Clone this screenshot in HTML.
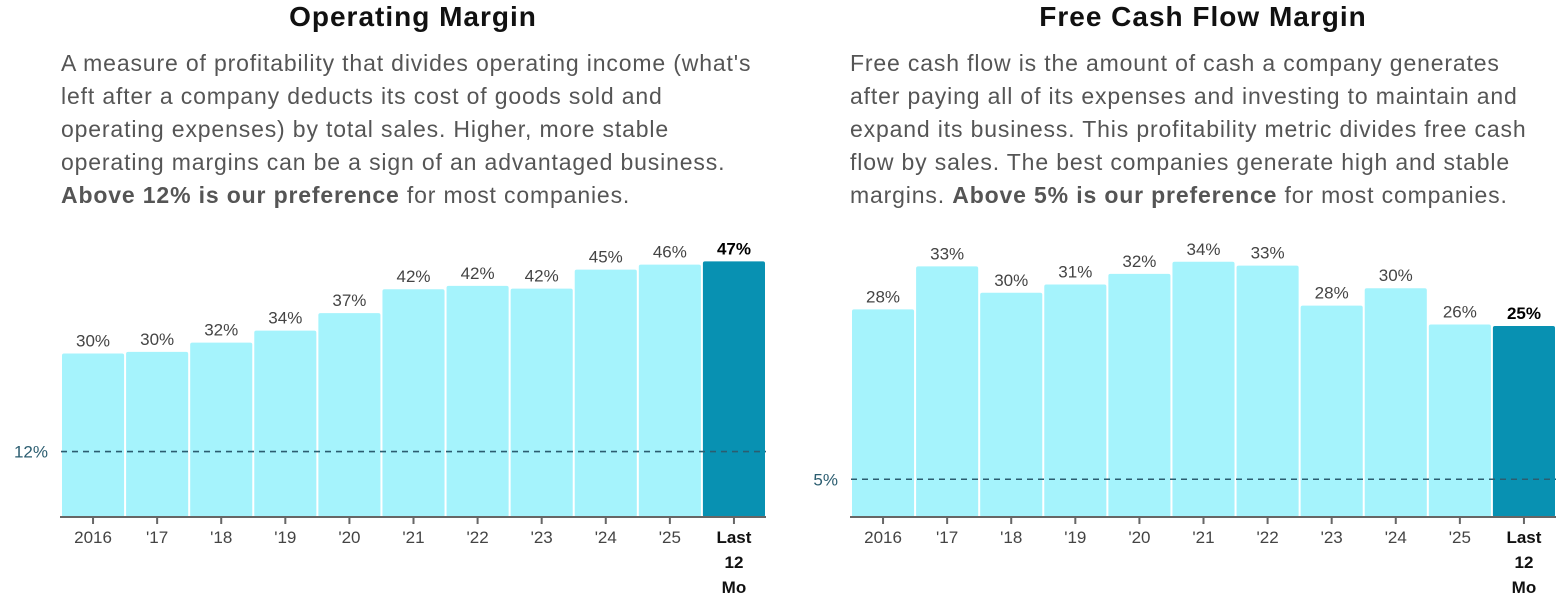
<!DOCTYPE html>
<html><head><meta charset="utf-8"><style>
body{margin:0;width:1565px;height:606px;background:#fff;font-family:"Liberation Sans",sans-serif;overflow:hidden;position:relative}
.title{position:absolute;top:1px;font-size:28px;letter-spacing:1px;font-weight:bold;color:#111;text-align:center}
.desc{position:absolute;top:47px;font-size:23px;letter-spacing:0.85px;line-height:33px;color:#555;white-space:nowrap}
.desc b{color:#555}
svg{position:absolute;left:0;top:0}
</style></head><body>
<div class="title" style="left:60px;width:706px">Operating Margin</div>
<div class="desc" style="left:61px">A measure of profitability that divides operating income (what's<br>left after a company deducts its cost of goods sold and<br>operating expenses) by total sales. Higher, more stable<br>operating margins can be a sign of an advantaged business.<br><b>Above 12% is our preference</b> for most companies.</div>
<div class="title" style="left:850px;width:706px">Free Cash Flow Margin</div>
<div class="desc" style="left:850px">Free cash flow is the amount of cash a company generates<br>after paying all of its expenses and investing to maintain and<br>expand its business. This profitability metric divides free cash<br>flow by sales. The best companies generate high and stable<br>margins. <b>Above 5% is our preference</b> for most companies.</div>
<svg id="svg" width="1565" height="606"></svg>
<script>
const categories=["2016","'17","'18","'19","'20","'21","'22","'23","'24","'25","Last 12 Mo"];
const opValues=[30,30.3,32,34.2,37.4,41.8,42.4,41.9,45.4,46.3,46.9];
const fcfValues=[27.5,33.2,29.7,30.8,32.2,33.8,33.3,28,30.3,25.5,25.3];
const opLabels=["30%","30%","32%","34%","37%","42%","42%","42%","45%","46%","47%"];
const fcfLabels=["28%","33%","30%","31%","32%","34%","33%","28%","30%","26%","25%"];
const opThreshold=12, fcfThreshold=5;
const svg=document.getElementById('svg');
const NS='http://www.w3.org/2000/svg';
function mk(tag,attrs,txt){const e=document.createElementNS(NS,tag);for(const k in attrs)e.setAttribute(k,attrs[k]);if(txt!==undefined)e.textContent=txt;svg.appendChild(e);return e;}
function chart(prefix,x0,x1,values,labels,thr,scale){
  const base=517,n=values.length,step=(x1-x0)/n;
  const y=v=>base-v*scale;
  values.forEach((v,i)=>{
    const last=i===n-1;
    const r=mk('rect',{x:x0+i*step+1,y:y(v),width:step-2,height:base-y(v),rx:2,fill:last?'#0891b2':'#a5f3fc'});
    
    
    const t=mk('text',{x:x0+i*step+step/2,y:y(v)-7,'text-anchor':'middle','font-size':17,fill:last?'#000':'#444','font-weight':last?'bold':'normal'},labels[i]);
    
    
    const tk=mk('line',{x1:x0+i*step+step/2,x2:x0+i*step+step/2,y1:base,y2:base+7,stroke:'#666','stroke-width':2});
    
    
    const lines=last?['Last','12','Mo']:[categories[i]];
    lines.forEach((s,j)=>{
      const c=mk('text',{x:x0+i*step+step/2,y:543+j*25,'text-anchor':'middle','font-size':17,fill:last?'#111':'#444','font-weight':last?'bold':'normal'},s);
      
      
    });
  });
  const ax=mk('line',{x1:x0-1,x2:x1,y1:base,y2:base,stroke:'#666','stroke-width':2});
  
  
  const d=mk('line',{x1:x0,x2:x1,y1:y(thr),y2:y(thr),stroke:'#2b5d70','stroke-width':1.6,'stroke-dasharray':'6 5'});
  
  
  const tl=mk('text',{x:x0-13,y:y(thr)+6,'text-anchor':'end','font-size':17,fill:'#2b5d70'},thr+'%');
  
  
}
chart('op',61,766,opValues,opLabels,opThreshold,5.45);
chart('fcf',851,1556,fcfValues,fcfLabels,fcfThreshold,7.55);
</script>
</body></html>
